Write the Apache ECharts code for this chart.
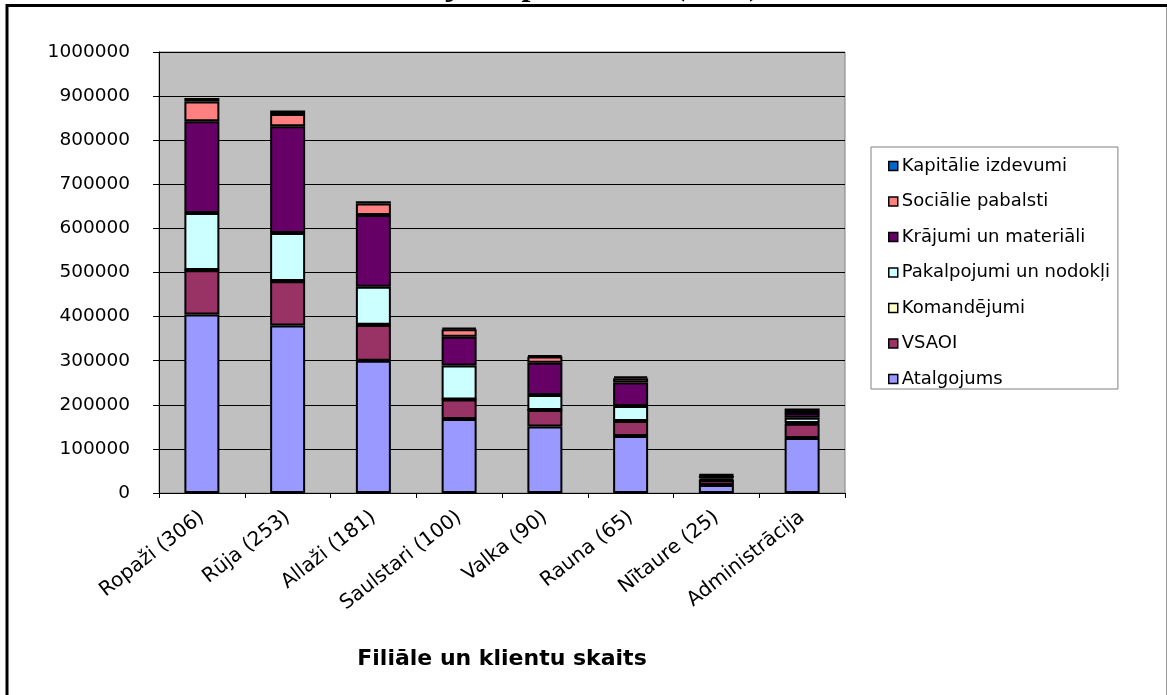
<!DOCTYPE html>
<html>
<head>
<meta charset="utf-8">
<script src="https://cdn.jsdelivr.net/npm/echarts@6/dist/echarts.min.js"></script>
<style>
html,body{margin:0;padding:0;background:#fff;}
#chart{width:1167px;height:695px;}
</style>
</head>
<body>
<div id="chart"></div>
<script>
var titleText = 'Izdevumu sadalījums pa filiālēm (2008)';
var xAxisName = 'Filiāle un klientu skaits';
var categories = ['Ropaži (306)', 'Rūja (253)', 'Allaži (181)', 'Saulstari (100)', 'Valka (90)', 'Rauna (65)', 'Nītaure (25)', 'Administrācija'];
var seriesNames = ['Atalgojums', 'VSAOI', 'Komandējumi', 'Pakalpojumi un nodokļi', 'Krājumi un materiāli', 'Sociālie pabalsti', 'Kapitālie izdevumi'];
var seriesColors = ['#9999FF', '#993366', '#FFFFCC', '#CCFFFF', '#660066', '#FF8080', '#0066CC'];
var atalgojums  = [405000, 380000, 300000, 168000, 151000, 129000, 18000, 125000];
var vsaoi       = [100000, 100000, 81000, 44000, 37000, 34000, 11000, 32000];
var komandejumi = [800, 600, 600, 300, 300, 300, 300, 1500];
var pakalpojumi = [129000, 109000, 86000, 77000, 34000, 34000, 4000, 12000];
var krajumi     = [208000, 242000, 163000, 65000, 73000, 53000, 5000, 11000];
var socialie    = [45000, 28000, 26000, 17000, 14000, 10000, 2000, 1000];
var kapitalie   = [8000, 8000, 5000, 3000, 3000, 4000, 2000, 9000];
var yTicks = [0, 100000, 200000, 300000, 400000, 500000, 600000, 700000, 800000, 900000, 1000000];

var seriesData = [atalgojums, vsaoi, komandejumi, pakalpojumi, krajumi, socialie, kapitalie];

var chart = echarts.init(document.getElementById('chart'), null, {renderer: 'canvas'});
var series = seriesNames.map(function (n, i) {
  return {
    name: n,
    type: 'bar',
    stack: 'total',
    barWidth: 35,
    data: seriesData[i],
    itemStyle: {color: seriesColors[i], borderColor: '#000', borderWidth: 2},
    emphasis: {disabled: true}
  };
});

chart.setOption({
  animation: false,
  backgroundColor: '#ffffff',
  grid: {
    left: 159, right: 322, top: 52, bottom: 202,
    show: true, backgroundColor: '#C0C0C0', borderColor: '#808080', borderWidth: 1
  },
  legend: {
    orient: 'vertical',
    left: 871, top: 147,
    data: seriesNames.slice().reverse(),
    icon: 'rect',
    itemWidth: 9, itemHeight: 9,
    itemGap: 15.5,
    padding: [9, 8, 0, 17],
    borderColor: '#808080', borderWidth: 1,
    backgroundColor: '#fff',
    itemStyle: {borderColor: '#000', borderWidth: 1.5},
    textStyle: {fontFamily: 'DejaVu Sans', fontSize: 18, color: '#000', lineHeight: 20, padding: [0, 0, 0, -1]},
    selectedMode: false
  },
  xAxis: {
    type: 'category',
    data: categories,
    name: xAxisName,
    nameLocation: 'middle',
    nameGap: 155,
    nameTextStyle: {fontFamily: 'DejaVu Sans', fontWeight: 'bold', fontSize: 22, color: '#000'},
    axisLine: {lineStyle: {color: '#000', width: 1}},
    axisTick: {show: true, length: 5, lineStyle: {color: '#000'}},
    axisLabel: {rotate: 38, margin: 22, fontFamily: 'DejaVu Sans', fontSize: 20, color: '#000', interval: 0}
  },
  yAxis: {
    type: 'value',
    min: yTicks[0], max: yTicks[yTicks.length - 1], interval: yTicks[1] - yTicks[0],
    axisLine: {show: true, lineStyle: {color: '#000', width: 1}},
    axisTick: {show: true, length: 6, lineStyle: {color: '#000'}},
    axisLabel: {margin: 29, fontFamily: 'DejaVu Sans', fontSize: 18.5, color: '#000',
      formatter: function (v) { return String(v); }},
    splitLine: {show: true, lineStyle: {color: '#000', width: 1}}
  },
  graphic: [
    {type: 'text', x: 221, y: -13, z: 10,
     style: {text: titleText, font: 'bold 32px "Liberation Serif"', fill: '#000', textAlign: 'left', textVerticalAlign: 'middle'}},
    {type: 'line', z: 20, shape: {x1: 6, y1: 5.5, x2: 1167, y2: 5.5}, style: {stroke: '#000', lineWidth: 3}},
    {type: 'line', z: 20, shape: {x1: 7, y1: 4, x2: 7, y2: 695}, style: {stroke: '#000', lineWidth: 3}},
    {type: 'line', z: 20, shape: {x1: 1166.5, y1: 7, x2: 1166.5, y2: 695}, style: {stroke: '#999999', lineWidth: 1}}
  ],
  series: series
});
</script>
</body>
</html>
